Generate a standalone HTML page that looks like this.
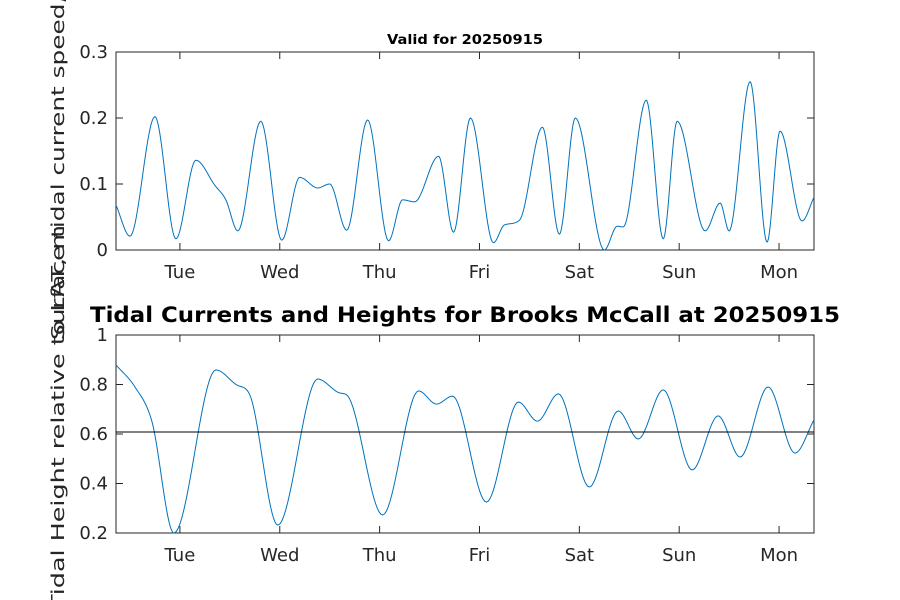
<!DOCTYPE html>
<html><head><meta charset="utf-8"><style>
body{margin:0;background:#fff;}
svg{display:block;font-family:"DejaVu Sans","Liberation Sans",sans-serif;}
</style></head><body>
<svg id="chart" width="900" height="600" viewBox="0 0 900 600"></svg>
<script>
// top: current speed (day offset from Tue, knots)
const speedDays=[-0.64,-0.50,-0.25,-0.04,0.16,0.35,0.46,0.58,0.81,1.02,1.20,1.38,1.50,1.67,1.88,2.09,2.23,2.35,2.59,2.74,2.91,3.14,3.25,3.40,3.63,3.80,3.96,4.25,4.38,4.44,4.67,4.84,4.98,5.26,5.41,5.50,5.71,5.88,6.01,6.23,6.35];
const speedVals=[0.068,0.021,0.202,0.017,0.136,0.098,0.076,0.029,0.195,0.015,0.110,0.094,0.100,0.030,0.197,0.014,0.076,0.073,0.142,0.027,0.200,0.011,0.038,0.045,0.186,0.024,0.200,0.000,0.036,0.035,0.227,0.017,0.195,0.029,0.071,0.029,0.255,0.012,0.180,0.044,0.080];
// bottom: tidal height (day offset, m)
const heightDays=[-0.64,-0.45,-0.28,-0.06,0.36,0.57,0.70,0.98,1.38,1.60,1.68,2.03,2.39,2.57,2.73,3.07,3.39,3.58,3.79,4.10,4.39,4.59,4.84,5.13,5.39,5.61,5.89,6.16,6.35];
const heightVals=[0.879,0.790,0.650,0.200,0.859,0.798,0.758,0.232,0.822,0.766,0.754,0.273,0.774,0.721,0.753,0.325,0.729,0.652,0.762,0.386,0.693,0.580,0.778,0.455,0.673,0.507,0.790,0.523,0.657];
const dayLabels=["Tue","Wed","Thu","Fri","Sat","Sun","Mon"];
const speedTicks=[0,0.1,0.2,0.3];
const heightTicks=[0.2,0.4,0.6,0.8,1];
const meanLevel=0.608;

const svg=document.getElementById('chart');
const NS='http://www.w3.org/2000/svg';
function mk(tag,attrs,parent){const e=document.createElementNS(NS,tag);for(const k in attrs)e.setAttribute(k,attrs[k]);(parent||svg).appendChild(e);return e;}
const X0=116,X1=814,D0=-0.64,D1=6.35;
const xs=d=>X0+(d-D0)/(D1-D0)*(X1-X0);
function monotone(xv,yv,n){
  const m=xv.length,dl=[],t=[];
  for(let i=0;i<m-1;i++)dl.push((yv[i+1]-yv[i])/(xv[i+1]-xv[i]));
  t[0]=dl[0];t[m-1]=dl[m-2];
  for(let i=1;i<m-1;i++){t[i]=(dl[i-1]*dl[i]<=0)?0:(dl[i-1]+dl[i])/2;}
  for(let i=0;i<m-1;i++){if(dl[i]===0){t[i]=t[i+1]=0;continue;}const a=t[i]/dl[i],b=t[i+1]/dl[i],s=a*a+b*b;if(s>9){const q=3/Math.sqrt(s);t[i]=q*a*dl[i];t[i+1]=q*b*dl[i];}}
  const out=[];
  for(let i=0;i<m-1;i++){const h=xv[i+1]-xv[i];for(let k=0;k<n;k++){const u=k/n,h00=2*u*u*u-3*u*u+1,h10=u*u*u-2*u*u+u,h01=-2*u*u*u+3*u*u,h11=u*u*u-u*u;out.push([xv[i]+u*h,h00*yv[i]+h10*h*t[i]+h01*yv[i+1]+h11*h*t[i+1]]);}}
  out.push([xv[m-1],yv[m-1]]);return out;
}
function axes(name,yTop,yBot,vMin,vMax,ticks,days,vals,fmt){
  const ys=v=>yBot-(v-vMin)/(vMax-vMin)*(yBot-yTop);
  const g=mk('g',{});
  
  
  const bg=mk('rect',{x:X0,y:yTop,width:X1-X0,height:yBot-yTop,fill:'#fff',stroke:'#262626','stroke-width':1},g);
  
  
  ticks.forEach(v=>{
    const y=ys(v);
    mk('line',{x1:X0,x2:X0+7,y1:y,y2:y,stroke:'#262626'},g);
    mk('line',{x1:X1,x2:X1-7,y1:y,y2:y,stroke:'#262626'},g);
    const t=mk('text',{x:X0-8,y:y+6,'text-anchor':'end','font-size':18,fill:'#262626'},g);
    t.textContent=fmt(v);
    
    
  });
  dayLabels.forEach((lab,i)=>{
    const x=xs(i);
    mk('line',{x1:x,x2:x,y1:yBot,y2:yBot-7,stroke:'#262626'},g);
    mk('line',{x1:x,x2:x,y1:yTop,y2:yTop+7,stroke:'#262626'},g);
    const t=mk('text',{x:x,y:yBot+28,'text-anchor':'middle','font-size':18,fill:'#262626'},g);
    t.textContent=lab;
    
    
  });
  const pts=monotone(days,vals,20);
  const p=mk('path',{d:pts.map((q,i)=>(i?'L':'M')+xs(q[0]).toFixed(2)+' '+ys(q[1]).toFixed(2)).join(''),fill:'none',stroke:'#0072BD','stroke-width':1},g);
  
  
  return ys;
}
const ysTop=axes('speed-axes',52,250,0,0.3,speedTicks,speedDays,speedVals,v=>v===0?'0':String(v));
const ysBot=axes('height-axes',335,533,0.2,1,heightTicks,heightDays,heightVals,v=>String(v));
const ml=mk('line',{x1:X0,x2:X1,y1:ysBot(meanLevel),y2:ysBot(meanLevel),stroke:'#000','stroke-width':1});


</script>
<div style="position:absolute;left:0;top:0;width:900px;height:600px;pointer-events:none">
<svg width="900" height="600" style="font-family:'DejaVu Sans','Liberation Sans',sans-serif">
<text x="465" y="44" text-anchor="middle" font-size="13" font-weight="bold" fill="#000" textLength="156" lengthAdjust="spacingAndGlyphs">Valid for 20250915</text>
<text x="465" y="322" text-anchor="middle" font-size="21" font-weight="bold" fill="#000" textLength="750" lengthAdjust="spacingAndGlyphs">Tidal Currents and Heights for Brooks McCall at 20250915</text>
<text transform="translate(64,340) rotate(-90)" text-anchor="start" font-size="18" fill="#262626" textLength="420" lengthAdjust="spacingAndGlyphs">Surface tidal current speed, knots</text>
<text transform="translate(64,225) rotate(-90)" text-anchor="end" font-size="18" fill="#262626" textLength="385" lengthAdjust="spacingAndGlyphs">Tidal Height relative to LAT, m</text>
</svg></div>
</body></html>
